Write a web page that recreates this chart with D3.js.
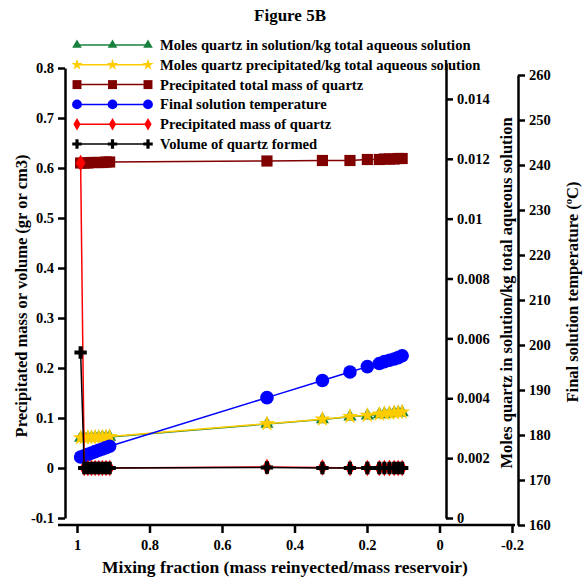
<!DOCTYPE html>
<html>
<head>
<meta charset="utf-8">
<script src="https://d3js.org/d3.v7.min.js"></script>
<style>
  body { margin: 0; background: #fff; }
  text { font-family: "Liberation Serif", "Times New Roman", serif; font-weight: bold; }
</style>
</head>
<body>
<div id="chart"></div>
<script>

// values
var mixFraction = [0.99, 0.98, 0.97, 0.96, 0.95, 0.94, 0.93, 0.92, 0.91,
                   0.476, 0.323, 0.247, 0.199, 0.166, 0.152, 0.138, 0.125, 0.114, 0.103];
var molesInSolution = [0.00267, 0.00267, 0.00268, 0.00268, 0.00269, 0.00269, 0.0027, 0.0027, 0.00271,
                       0.00314, 0.00329, 0.00338, 0.00342, 0.00346, 0.00348, 0.00349, 0.00351, 0.00352, 0.00353];
var molesPrecipitated = [0.00268, 0.00268, 0.00269, 0.00269, 0.0027, 0.0027, 0.00271, 0.00271, 0.00272,
                         0.00315, 0.0033, 0.00339, 0.00343, 0.00347, 0.00349, 0.0035, 0.00352, 0.00353, 0.00354];
var totalMass = [0.610, 0.610, 0.610, 0.611, 0.611, 0.611, 0.611, 0.612, 0.612,
                 0.614, 0.615, 0.615, 0.617, 0.617, 0.618, 0.618, 0.618, 0.619, 0.619];
var temperature = [175.1, 175.4, 175.7, 176.0, 176.3, 176.6, 176.9, 177.2, 177.5,
                   188.3, 192.1, 194.0, 195.2, 195.9, 196.3, 196.6, 196.9, 197.2, 197.6];
var precipMass = [0.61, 0, 0, 0, 0, 0, 0, 0, 0,
                  0.002, 0.001, 0, 0, 0, 0, 0, 0, 0, 0];
var quartzVolume = [0.231, 0, 0, 0, 0, 0, 0, 0, 0,
                    0.001, 0, 0, 0, 0, 0, 0, 0, 0, 0];

var xTicks = [1, 0.8, 0.6, 0.4, 0.2, 0, -0.2];
var leftTicks = [-0.1, 0, 0.1, 0.2, 0.3, 0.4, 0.5, 0.6, 0.7, 0.8];
var molesTicks = [0, 0.002, 0.004, 0.006, 0.008, 0.01, 0.012, 0.014];
var tempTicks = [160, 170, 180, 190, 200, 210, 220, 230, 240, 250, 260];

var width = 583, height = 577;

var svg = d3.select("#chart")
  .append("svg")
    .attr("width", width)
    .attr("height", height);

var x = d3.scaleLinear().domain([1, -0.2]).range([77, 512]);
var yLeft = d3.scaleLinear().domain([-0.1, 0.8]).range([518, 68]);
var yMoles = d3.scaleLinear().domain([0, 0.0152]).range([518, 63]);
var yTemp = d3.scaleLinear().domain([160, 260]).range([525, 75]);

var series = [
  {name: "Moles quartz in solution/kg total aqueous solution", values: molesInSolution, y: yMoles,
   color: "#17803d", symbol: d3.symbolTriangle, size: 75, legendSize: 40},
  {name: "Moles quartz precipitated/kg total aqueous solution", values: molesPrecipitated, y: yMoles,
   color: "#ffcc00", symbol: d3.symbolStar, size: 80, legendSize: 40},
  {name: "Precipitated total mass of quartz", values: totalMass, y: yLeft,
   color: "#800000", symbol: d3.symbolSquare, size: 125, legendSize: 80},
  {name: "Final solution temperature", values: temperature, y: yTemp,
   color: "#0000ff", symbol: d3.symbolCircle, size: 145, legendSize: 75},
  {name: "Precipitated mass of quartz", values: precipMass, y: yLeft,
   color: "#ff0000", symbol: d3.symbolDiamond, size: 80, legendSize: 45},
  {name: "Volume of quartz formed", values: quartzVolume, y: yLeft,
   color: "#000000", symbol: d3.symbolCross, size: 85, legendSize: 50}
];

// title
svg.append("text")
  .attr("x", 290).attr("y", 21)
  .attr("text-anchor", "middle")
  .style("font-size", "17px")
  .text("Figure 5B");

// legend
var legend = svg.append("g");
series.forEach(function(s, i) {
  var ly = 45 + i * 19.8;
  legend.append("line")
    .attr("x1", 77).attr("x2", 148).attr("y1", ly).attr("y2", ly)
    .attr("stroke", s.color).attr("stroke-width", 1.5);
  [77, 112.5, 148].forEach(function(mx) {
    legend.append("path")
      .attr("d", d3.symbol().type(s.symbol).size(s.legendSize)())
      .attr("transform", "translate(" + mx + "," + ly + ")")
      .attr("fill", s.color);
  });
  legend.append("text")
    .attr("x", 160).attr("y", ly + 5)
    .style("font-size", "14.6px")
    .text(s.name);
});

// series lines and markers
series.forEach(function(s) {
  var pts = mixFraction.map(function(m, i) { return [m, s.values[i]]; });
  var line = d3.line()
    .x(function(d) { return x(d[0]); })
    .y(function(d) { return s.y(d[1]); });
  svg.append("path")
    .datum(pts)
    .attr("d", line)
    .attr("fill", "none")
    .attr("stroke", s.color)
    .attr("stroke-width", 1.5);
  svg.append("g")
    .selectAll("path")
    .data(pts)
    .enter()
    .append("path")
    .attr("d", d3.symbol().type(s.symbol).size(s.size)())
    .attr("transform", function(d) { return "translate(" + x(d[0]) + "," + s.y(d[1]) + ")"; })
    .attr("fill", s.color);
});

function styleAxis(g) {
  g.selectAll("path, line").attr("stroke", "#000").attr("stroke-width", 2.5);
  g.selectAll("text").style("font-size", "14.5px").style("font-family", "Liberation Serif").style("font-weight", "bold").attr("fill", "#000");
}

// x axis
var gx = svg.append("g")
  .attr("transform", "translate(0,525)")
  .call(d3.axisBottom(x).tickValues(xTicks).tickSize(8).tickSizeOuter(0).tickPadding(7)
    .tickFormat(function(d) { return d === 0 ? "0" : String(d); }));
gx.select(".domain").remove();
gx.append("line").attr("x1", 58).attr("x2", 515).attr("y1", 0).attr("y2", 0);
styleAxis(gx);

// left axis
var gl = svg.append("g")
  .attr("transform", "translate(65,0)")
  .call(d3.axisLeft(yLeft).tickValues(leftTicks).tickSize(7).tickSizeOuter(0).tickPadding(4)
    .tickFormat(function(d) { return String(+d.toFixed(1)); }));
styleAxis(gl);

// moles axis
var gm = svg.append("g")
  .attr("transform", "translate(446,0)")
  .call(d3.axisRight(yMoles).tickValues(molesTicks).tickSize(7).tickSizeOuter(0).tickPadding(4)
    .tickFormat(function(d) { return String(+d.toFixed(3)); }));
styleAxis(gm);

// temperature axis
var gt = svg.append("g")
  .attr("transform", "translate(518,0)")
  .call(d3.axisRight(yTemp).tickValues(tempTicks).tickSize(7).tickSizeOuter(0).tickPadding(4));
styleAxis(gt);

// axis titles
svg.append("text")
  .attr("x", 285).attr("y", 573)
  .attr("text-anchor", "middle")
  .style("font-size", "17.5px")
  .text("Mixing fraction (mass reinyected/mass reservoir)");

svg.append("text")
  .attr("transform", "translate(27,296) rotate(-90)")
  .attr("text-anchor", "middle")
  .style("font-size", "16.5px")
  .text("Precipitated mass or volume (gr or cm3)");

svg.append("text")
  .attr("transform", "translate(512,293) rotate(-90)")
  .attr("text-anchor", "middle")
  .style("font-size", "16.5px")
  .text("Moles quartz in solution/kg total aqueous solution");

svg.append("text")
  .attr("transform", "translate(578,292) rotate(-90)")
  .attr("text-anchor", "middle")
  .style("font-size", "16.5px")
  .text("Final solution temperature (\u00baC)");

</script>
</body>
</html>
